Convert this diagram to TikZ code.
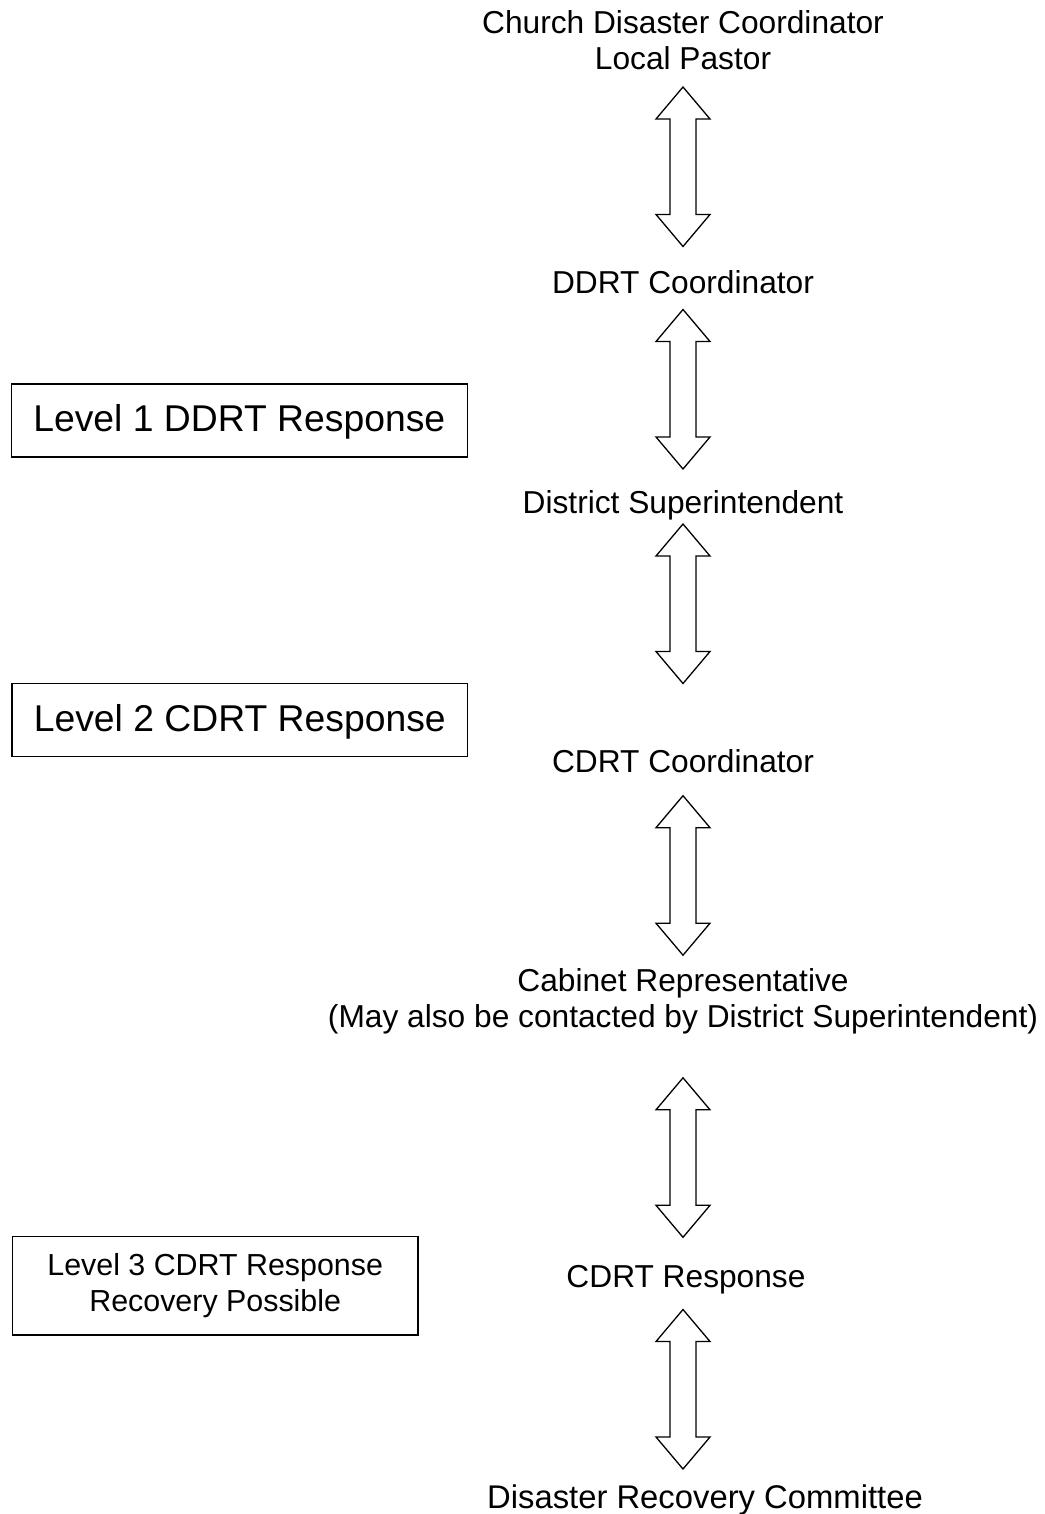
\documentclass[tikz,border=0pt]{standalone}
\usepackage{fontspec}
\setmainfont{Liberation Sans}
\begin{document}
\begin{tikzpicture}[x=1pt,y=-1pt,
  lbl/.style={font=\fontsize{31.7}{36}\selectfont, inner sep=0pt, align=center, anchor=base},
  lvlbox/.style={draw, line width=1.3pt, inner sep=0pt, align=center},
  dblarr/.style={draw, line width=1.3pt, fill=white, line join=miter},
  dbl/.pic={\draw[dblarr] (0,0) -- ++(27,32) -- ++(-14,0) -- ++(0,95.5) -- ++(14,0)
      -- ++(-27,32) -- ++(-27,-32) -- ++(14,0) -- ++(0,-95.5) -- ++(-14,0) -- cycle;}]
\useasboundingbox (0,0) rectangle (1044,1514);

% main chain (anchor=base is the baseline of the last line)
\node[lbl] (t1) at (683,70) {Church Disaster Coordinator\\Local Pastor};
\node[lbl] (t2) at (683,293.3) {DDRT Coordinator};
\node[lbl] (t3) at (683,513.3) {District Superintendent};
\node[lbl] (t4) at (683,772.3) {CDRT Coordinator};
\node[lbl, font=\fontsize{31.7}{35.3}\selectfont] (t5) at (683,1027) {Cabinet Representative\\(May also be contacted by District Superintendent)};
\node[lbl] (t6) at (686,1287.3) {CDRT Response};
\node[lbl, font=\fontsize{32.8}{36}\selectfont] (t7) at (705,1508.3) {Disaster Recovery Committee};

% double arrows
\pic (a1) at (683,87) {dbl};
\pic (a2) at (683,309.5) {dbl};
\pic (a3) at (683,524) {dbl};
\pic (a4) at (683,795.7) {dbl};
\pic (a5) at (683,1077.8) {dbl};
\pic (a6) at (683,1309.5) {dbl};

% level boxes
\node[lvlbox, minimum width=456pt, minimum height=73pt,
      font=\fontsize{37.3}{42}\selectfont, text height=28pt, text depth=6pt]
      (l1) at (239.3,420.5) {Level 1 DDRT Response};
\node[lvlbox, minimum width=455.7pt, minimum height=73.4pt,
      font=\fontsize{37.3}{42}\selectfont, text height=28pt, text depth=6pt]
      (l2) at (239.8,720) {Level 2 CDRT Response};
\node[lvlbox, minimum width=405.7pt, minimum height=98.3pt,
      font=\fontsize{30.4}{36.6}\selectfont]
      (l3) at (215.2,1285.8) {Level 3 CDRT Response\\Recovery Possible};
\end{tikzpicture}
\end{document}
